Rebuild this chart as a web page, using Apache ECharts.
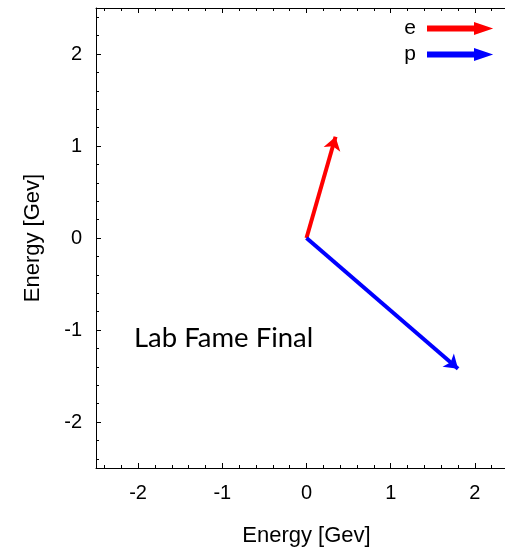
<!DOCTYPE html>
<html>
<head>
<meta charset="utf-8">
<script src="https://cdn.jsdelivr.net/npm/echarts@6/dist/echarts.min.js"></script>
<style>
  html, body { margin: 0; padding: 0; background: #fff; }
  #chart { width: 505px; height: 552px; }
</style>
</head>
<body>
<div id="chart"></div>
<script>
// Momentum vectors in the lab frame (start point -> end point), in GeV
const seriesNames = ['e', 'p'];
const electronVector = [[0, 0], [0.345, 1.10]];
const protonVector = [[0, 0], [1.80, -1.42]];
const xTicks = [-2, -1, 0, 1, 2];
const yTicks = [-2, -1, 0, 1, 2];
const minorTicks = [-2.4, -2.2, -1.8, -1.6, -1.4, -1.2, -0.8, -0.6, -0.4, -0.2,
                    0.2, 0.4, 0.6, 0.8, 1.2, 1.4, 1.6, 1.8, 2.2, 2.4];
const axisTitle = 'Energy [Gev]';
const noteText = 'Lab Fame Final';

const FONT = '"Liberation Sans", Arial, sans-serif';
const chart = echarts.init(document.getElementById('chart'), null, { renderer: 'canvas' });

// Arrow-shaped legend icon: shaft plus head
const arrowIcon = 'path://M0,3 L47,3 L47,0 L62,5 L47,10 L47,7 L0,7 Z';

// Axis carrying the frame line, the long ticks and (optionally) labels
function majorAxis(position, ticks, withLabels) {
  return {
    type: 'value', min: -2.5, max: 2.5, position: position,
    axisLine: { show: true, onZero: false, lineStyle: { color: '#000', width: 1 } },
    axisTick: { show: true, inside: true, length: 5, customValues: ticks,
                lineStyle: { color: '#000', width: 1 } },
    splitLine: { show: false },
    axisLabel: withLabels
      ? { show: true, customValues: ticks, color: '#000', fontSize: 20, fontFamily: FONT }
      : { show: false }
  };
}

// Overlaid axis that only draws the short in-between ticks
function minorAxis(position) {
  return {
    type: 'value', min: -2.5, max: 2.5, position: position,
    axisLine: { show: false, onZero: false },
    axisTick: { show: true, inside: true, length: 3, customValues: minorTicks,
                lineStyle: { color: '#000', width: 1 } },
    splitLine: { show: false },
    axisLabel: { show: false }
  };
}

const xBottom = majorAxis('bottom', xTicks, true);
xBottom.axisLabel.margin = 15;
Object.assign(xBottom, {
  name: axisTitle, nameLocation: 'middle', nameGap: 57,
  nameTextStyle: { color: '#000', fontSize: 22, fontFamily: FONT }
});
const yLeft = majorAxis('left', yTicks, true);
yLeft.axisLabel.margin = 14;
Object.assign(yLeft, {
  name: axisTitle, nameLocation: 'middle', nameGap: 52,
  nameTextStyle: { color: '#000', fontSize: 22, fontFamily: FONT }
});

function arrowSeries(name, coords, color) {
  return {
    name: name,
    type: 'lines',
    coordinateSystem: 'cartesian2d',
    xAxisIndex: 0, yAxisIndex: 0,
    symbol: ['none', 'arrow'],
    symbolSize: [11, 13],
    lineStyle: { color: color, width: 4, opacity: 1 },
    itemStyle: { color: color },
    data: [{ coords: coords }],
    silent: true,
    animation: false
  };
}

chart.setOption({
  animation: false,
  color: ['#ff0000', '#0000ff'],
  grid: { left: 96, top: 8, width: 421, height: 460, containLabel: false, outerBoundsMode: 'none' },
  xAxis: [xBottom, majorAxis('top', xTicks, false), minorAxis('bottom'), minorAxis('top')],
  yAxis: [yLeft, majorAxis('right', yTicks, false), minorAxis('left'), minorAxis('right')],
  legend: {
    data: seriesNames.map(function (n) { return { name: n, icon: arrowIcon }; }),
    orient: 'vertical',
    right: 9, top: 13,
    align: 'right',
    itemWidth: 62, itemHeight: 10, itemGap: 5,
    selectedMode: false,
    textStyle: { color: '#000', fontSize: 21, fontFamily: FONT, padding: [0, 7, 0, 0] }
  },
  graphic: [{
    type: 'text',
    left: 134, top: 324,
    style: { text: noteText, fill: '#000', font: '27.5px Lato, "Open Sans", sans-serif' }
  }],
  series: [
    arrowSeries(seriesNames[0], electronVector, '#ff0000'),
    arrowSeries(seriesNames[1], protonVector, '#0000ff')
  ]
});
</script>
</body>
</html>
